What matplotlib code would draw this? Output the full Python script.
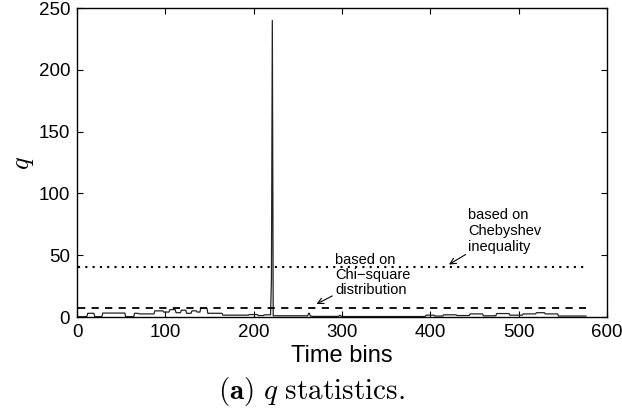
import matplotlib.pyplot as plt
import numpy as np

plt.rcParams["mathtext.fontset"] = "cm"
plt.rcParams["font.family"] = ["Liberation Sans", "DejaVu Sans"]

# q statistic, piecewise-constant segments: (start bin, end bin, value)
seg_start = [1, 12, 20, 29, 55, 65, 70, 88, 98, 105, 112, 118, 124, 130, 136, 140, 148, 165, 195, 205,
             212, 220, 221, 222, 224, 262, 264, 266, 297, 299, 301, 395, 405, 415, 430, 445, 460, 475,
             490, 505, 520, 530, 545]
seg_end = [11, 19, 28, 54, 64, 69, 87, 97, 104, 111, 117, 123, 129, 135, 139, 147, 164, 194, 204, 211,
           219, 220, 221, 223, 261, 263, 265, 296, 298, 300, 394, 404, 414, 429, 444, 459, 474, 489,
           504, 519, 529, 544, 576]
seg_val = [0.3, 3.0, 0.3, 3.2, 0.3, 3.0, 2.5, 5.0, 4.0, 6.0, 3.5, 5.5, 3.0, 5.0, 4.0, 7.0, 3.0, 1.5, 2.0, 1.2,
           1.8, 30.0, 240.0, 1.0, 1.0, 3.0, 0.8, 0.5, 1.3, 0.5, 0.4, 1.5, 0.8, 1.8, 1.2, 2.5, 1.0, 2.8,
           1.5, 2.5, 3.5, 2.5, 0.8]

chebyshev_limit = 40.5
chisquare_limit = 7.5
n_bins = 576

bins = []
q = []
for s, e, v in zip(seg_start, seg_end, seg_val):
    for b in range(s, e + 1):
        bins.append(b)
        q.append(v)

fig = plt.figure(figsize=(6.22, 4.08), dpi=100)
ax = fig.add_axes([0.124, 0.223, 0.852, 0.757])

ax.plot(bins, q, color="#222222", lw=0.9)
ax.plot([1, n_bins], [chebyshev_limit, chebyshev_limit], color="black", lw=1.5, ls=(0, (1, 2.5)))
ax.plot([1, n_bins], [chisquare_limit, chisquare_limit], color="black", lw=1.3, ls=(0, (4, 3.5)))

ax.annotate("based on\nChebyshev\ninequality", xy=(421, 42.5), xytext=(443, 51),
            fontsize=10.5, ha="left", va="bottom", linespacing=1.2,
            arrowprops=dict(arrowstyle="->", color="black", lw=0.8, shrinkA=0, shrinkB=0))
ax.annotate("based on\nChi\u2212square\ndistribution", xy=(271, 10.5), xytext=(292, 16),
            fontsize=10.5, ha="left", va="bottom", linespacing=1.1,
            arrowprops=dict(arrowstyle="->", color="black", lw=0.8, shrinkA=0, shrinkB=0))

ax.set_xlim(0, 600)
ax.set_ylim(0, 250)
ax.set_xticks(range(0, 601, 100))
ax.set_yticks(range(0, 251, 50))
ax.tick_params(direction="in", top=True, right=True, labelsize=13.5, length=4, pad=5)
for sp in ax.spines.values():
    sp.set_linewidth(1.0)

ax.set_xlabel("Time bins", fontsize=17, labelpad=3)
ax.set_ylabel("$q$", fontsize=19, labelpad=2)

fig.text(0.5, 0.022, r"$\mathbf{(a)}\ q\ \mathrm{statistics.}$", fontsize=21, ha="center")

fig.savefig("out.png", dpi=100)
